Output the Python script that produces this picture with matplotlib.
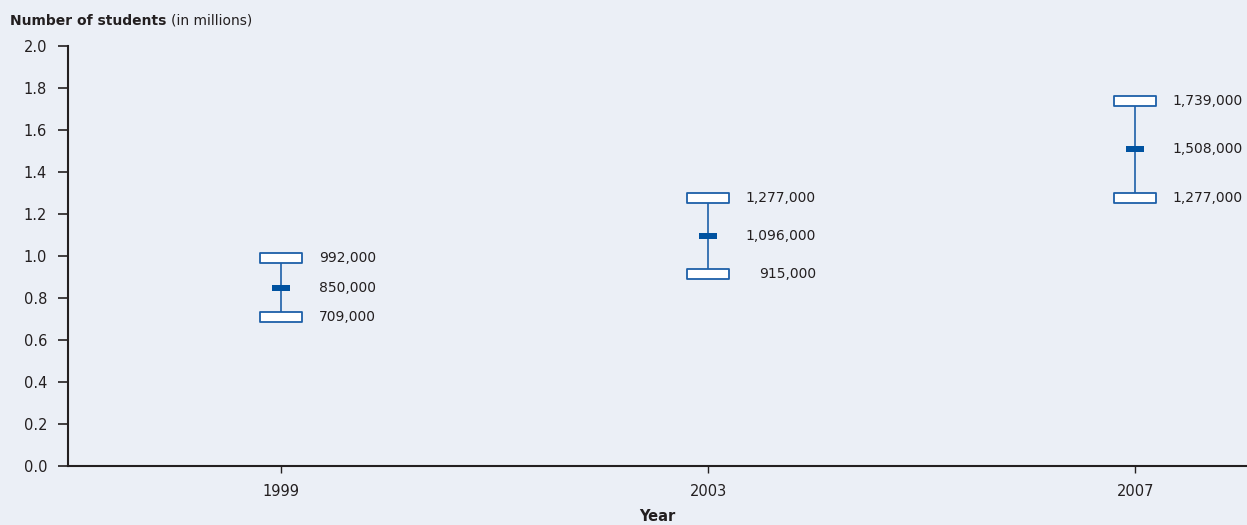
import matplotlib
matplotlib.use('Agg')
import matplotlib.pyplot as plt
from matplotlib.path import Path

# data (students, in millions)
years = ['1999', '2003', '2007']
low = [0.709, 0.915, 1.277]
mid = [0.850, 1.096, 1.508]
high = [0.992, 1.277, 1.739]
low_labels = ['709,000', '915,000', '1,277,000']
mid_labels = ['850,000', '1,096,000', '1,508,000']
high_labels = ['992,000', '1,277,000', '1,739,000']
yticks = [0.0, 0.2, 0.4, 0.6, 0.8, 1.0, 1.2, 1.4, 1.6, 1.8, 2.0]

bg = '#ebeff6'
blue = '#1d5fa8'
dark_blue = '#0052a0'
ink = '#231f20'

plt.rcParams['font.family'] = ['DejaVu Sans']

fig = plt.figure(figsize=(12.47, 5.25), dpi=100, facecolor=bg)
ax = fig.add_axes([68 / 1247, 59 / 525, 1 - 68 / 1247, 0.8])
ax.set_facecolor(bg)

x = list(range(len(years)))

# custom marker shapes: wide open box for the ends, thin bar for the middle
box = Path([(-1, -0.26), (1, -0.26), (1, 0.26), (-1, 0.26), (-1, -0.26)],
           [Path.MOVETO, Path.LINETO, Path.LINETO, Path.LINETO, Path.CLOSEPOLY])
bar = Path([(-1, -0.27), (1, -0.27), (1, 0.27), (-1, 0.27), (-1, -0.27)],
           [Path.MOVETO, Path.LINETO, Path.LINETO, Path.LINETO, Path.CLOSEPOLY])

ax.vlines(x, low, high, color=blue, lw=1.2, zorder=2)
ax.plot(x, low, ls='none', marker=box, markersize=30, mfc='white', mec=blue, mew=1.3, zorder=3)
ax.plot(x, high, ls='none', marker=box, markersize=30, mfc='white', mec=blue, mew=1.3, zorder=3)
ax.plot(x, mid, ls='none', marker=bar, markersize=13.5, mfc=dark_blue, mec=dark_blue, mew=0, zorder=3)

groups = []
for i in x:
    grp = []
    for val, lab in [(high[i], high_labels[i]), (mid[i], mid_labels[i]), (low[i], low_labels[i])]:
        t = ax.annotate(lab, xy=(i, val), xytext=(27, 0), textcoords='offset points',
                        ha='left', va='center', fontsize=10, color=ink)
        grp.append(t)
    groups.append(grp)

ax.set_xlim(-0.5, 2.262)
ax.set_ylim(0, 2.0)
ax.set_xticks(x)
ax.set_xticklabels(years)
ax.set_yticks(yticks)
ax.set_yticklabels(['%.1f' % v for v in yticks])

for s in ['top', 'right']:
    ax.spines[s].set_visible(False)
for s in ['left', 'bottom']:
    ax.spines[s].set_linewidth(1.5)
    ax.spines[s].set_color(ink)

ax.tick_params(axis='y', length=7, width=1.2, pad=8, labelsize=10.5, colors=ink)
ax.tick_params(axis='x', length=5, width=1.0, pad=8, labelsize=10.5, colors=ink)
ax.set_xlabel('Year', fontweight='bold', fontsize=10.5, color=ink, labelpad=7)

title = fig.text(10 / 1247, 1 - 25 / 525, 'Number of students', fontweight='bold',
                 fontsize=10, color=ink, va='baseline')
ax.annotate('(in millions)', xy=(1, 0), xycoords=title, xytext=(3, 0),
            textcoords='offset points', va='bottom', fontsize=10, color=ink)

# right-align the shorter labels in each group to the longest one
fig.canvas.draw()
renderer = fig.canvas.get_renderer()
for grp in groups:
    widths = [t.get_window_extent(renderer).width for t in grp]
    w_max = max(widths)
    for t, w in zip(grp, widths):
        if w < w_max - 0.5:
            t.xyann = (27 + (w_max - w) * 72 / fig.dpi, 0)

fig.savefig('out.png', dpi=100, facecolor=bg)
